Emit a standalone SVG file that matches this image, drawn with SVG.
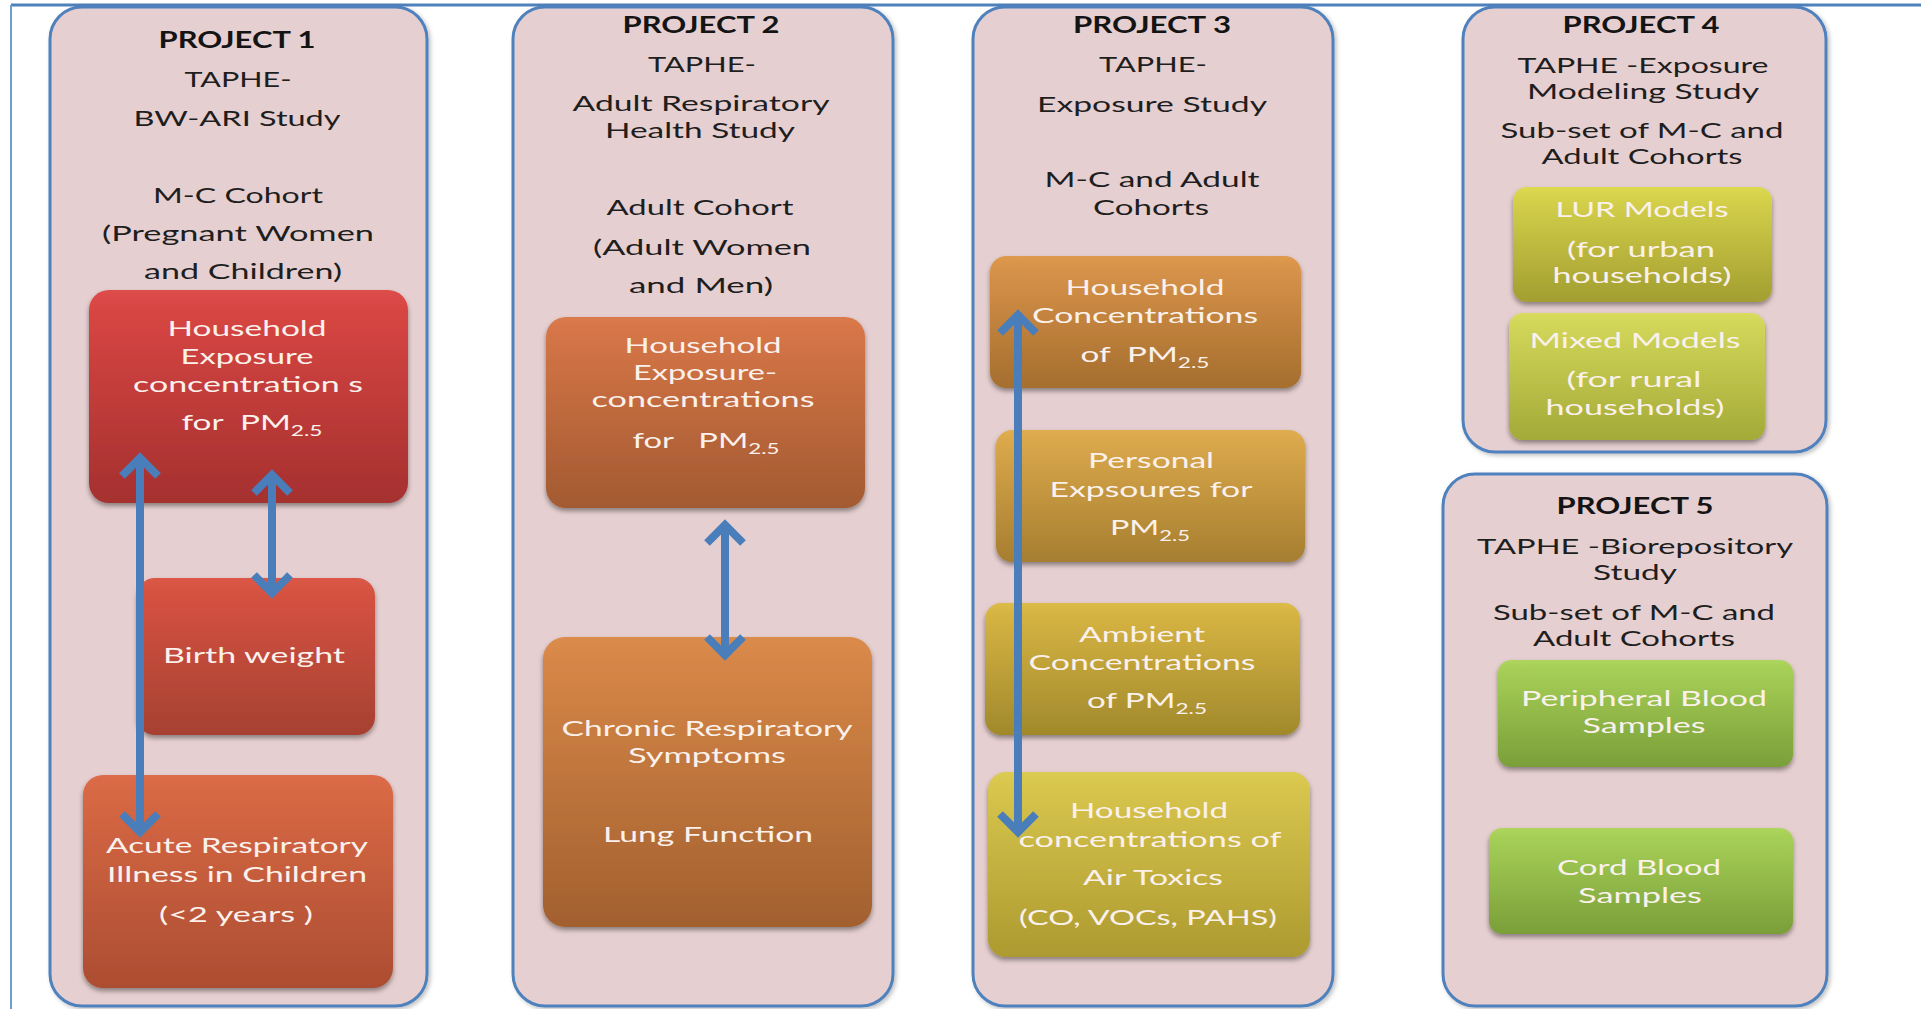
<svg xmlns="http://www.w3.org/2000/svg" width="1921" height="1009" viewBox="0 0 1921 1009">
<style>
.panel{fill:#E6CFD0;stroke:#4F81BD;stroke-width:3;filter:url(#pshadow)}
.box{filter:url(#bshadow)}
.h{font-family:Lato,"Open Sans","Liberation Sans",sans-serif;font-size:22px;fill:#1E1E1E;text-anchor:middle}
.t{font-family:Lato,"Open Sans","Liberation Sans",sans-serif;font-size:22px;font-weight:700;fill:#141414;text-anchor:middle}
.w{font-family:Lato,"Open Sans","Liberation Sans",sans-serif;font-size:22px;fill:#FBF1EC;text-anchor:middle}
.sub{font-size:15px}
.arrow{stroke:#4A7EBB;stroke-width:8;fill:none;marker-start:url(#chev);marker-end:url(#chev)}
</style>
<defs>
<filter id="pshadow" x="-5%" y="-5%" width="110%" height="110%">
<feDropShadow dx="2" dy="2" stdDeviation="2" flood-color="#000" flood-opacity="0.25"/>
</filter>
<filter id="bshadow" x="-5%" y="-5%" width="110%" height="115%">
<feDropShadow dx="0" dy="3" stdDeviation="2.5" flood-color="#000" flood-opacity="0.4"/>
</filter>
<marker id="chev" markerUnits="userSpaceOnUse" viewBox="-30 -25 40 50" refX="0" refY="0" markerWidth="40" markerHeight="50" orient="auto-start-reverse" overflow="visible">
<path d="M -18,-18 L 0,0 L -18,18" fill="none" stroke="#4A7EBB" stroke-width="8" stroke-linejoin="miter"/>
</marker>
<linearGradient id="g1" x1="0" y1="0" x2="0" y2="1"><stop offset="0" stop-color="#DD4E4A"/><stop offset="0.08" stop-color="#D84643"/><stop offset="1" stop-color="#A5302F"/></linearGradient>
<linearGradient id="g2" x1="0" y1="0" x2="0" y2="1"><stop offset="0" stop-color="#DC5846"/><stop offset="0.08" stop-color="#D65242"/><stop offset="1" stop-color="#A64131"/></linearGradient>
<linearGradient id="g3" x1="0" y1="0" x2="0" y2="1"><stop offset="0" stop-color="#DC6C48"/><stop offset="0.08" stop-color="#D76844"/><stop offset="1" stop-color="#AC4D32"/></linearGradient>
<linearGradient id="g4" x1="0" y1="0" x2="0" y2="1"><stop offset="0" stop-color="#DB7A4C"/><stop offset="0.08" stop-color="#D57547"/><stop offset="1" stop-color="#A35A31"/></linearGradient>
<linearGradient id="g5" x1="0" y1="0" x2="0" y2="1"><stop offset="0" stop-color="#DB8C4C"/><stop offset="0.08" stop-color="#D68647"/><stop offset="1" stop-color="#A2602F"/></linearGradient>
<linearGradient id="g6" x1="0" y1="0" x2="0" y2="1"><stop offset="0" stop-color="#DE9A4E"/><stop offset="0.08" stop-color="#D8934A"/><stop offset="1" stop-color="#A56E2E"/></linearGradient>
<linearGradient id="g7" x1="0" y1="0" x2="0" y2="1"><stop offset="0" stop-color="#E0AE50"/><stop offset="0.08" stop-color="#DAA84B"/><stop offset="1" stop-color="#A67E30"/></linearGradient>
<linearGradient id="g8" x1="0" y1="0" x2="0" y2="1"><stop offset="0" stop-color="#DCBB48"/><stop offset="0.08" stop-color="#D6B443"/><stop offset="1" stop-color="#A1892B"/></linearGradient>
<linearGradient id="g9" x1="0" y1="0" x2="0" y2="1"><stop offset="0" stop-color="#DCCB52"/><stop offset="0.08" stop-color="#D7C54D"/><stop offset="1" stop-color="#AD9A30"/></linearGradient>
<linearGradient id="g10" x1="0" y1="0" x2="0" y2="1"><stop offset="0" stop-color="#DDD950"/><stop offset="0.08" stop-color="#D6D24B"/><stop offset="1" stop-color="#A29E31"/></linearGradient>
<linearGradient id="g11" x1="0" y1="0" x2="0" y2="1"><stop offset="0" stop-color="#D9DC5E"/><stop offset="0.08" stop-color="#D2D659"/><stop offset="1" stop-color="#A3AA38"/></linearGradient>
<linearGradient id="g12" x1="0" y1="0" x2="0" y2="1"><stop offset="0" stop-color="#AED65E"/><stop offset="0.08" stop-color="#A6CF57"/><stop offset="1" stop-color="#7A9F39"/></linearGradient>
</defs>

<rect x="0" y="0" width="1921" height="1009" fill="#FFFFFF"/>
<g id="frame">
<line x1="11" y1="5" x2="1921" y2="5" stroke="#4F81BD" stroke-width="3"/>
<line x1="11" y1="5" x2="11" y2="1009" stroke="#6F9AD2" stroke-width="2"/>
</g>

<g id="project1">
<rect class="panel" x="50" y="7" width="377" height="999" rx="32"/>
<text class="t" x="237" y="48" textLength="157" lengthAdjust="spacingAndGlyphs">PROJECT 1</text>
<text class="h" x="238" y="87" textLength="107" lengthAdjust="spacingAndGlyphs">TAPHE-</text>
<text class="h" x="237" y="126" textLength="207" lengthAdjust="spacingAndGlyphs">BW-ARI Study</text>
<text class="h" x="238" y="203" textLength="170" lengthAdjust="spacingAndGlyphs">M-C Cohort</text>
<text class="h" x="238" y="241" textLength="272" lengthAdjust="spacingAndGlyphs">(Pregnant Women</text>
<text class="h" x="243" y="279" textLength="198" lengthAdjust="spacingAndGlyphs">and Children)</text>
</g>
<g id="p1-household">
<rect class="box" x="89" y="290" width="319" height="213" rx="20" fill="url(#g1)"/>
<text class="w" x="247" y="336" textLength="159" lengthAdjust="spacingAndGlyphs">Household</text>
<text class="w" x="247" y="364" textLength="133" lengthAdjust="spacingAndGlyphs">Exposure</text>
<text class="w" x="248" y="392" textLength="230" lengthAdjust="spacingAndGlyphs">concentration s</text>
<text class="w" x="252" y="430" textLength="141" lengthAdjust="spacingAndGlyphs" xml:space="preserve">for  PM<tspan class="sub" dy="6">2.5</tspan></text>
</g>
<g id="p1-birthweight">
<rect class="box" x="137" y="578" width="238" height="157" rx="18" fill="url(#g2)"/>
<text class="w" x="254" y="663" textLength="182" lengthAdjust="spacingAndGlyphs">Birth weight</text>
</g>
<g id="p1-acute">
<rect class="box" x="83" y="775" width="310" height="213" rx="20" fill="url(#g3)"/>
<text class="w" x="237" y="853" textLength="262" lengthAdjust="spacingAndGlyphs">Acute Respiratory</text>
<text class="w" x="237" y="882" textLength="260" lengthAdjust="spacingAndGlyphs">Illness in Children</text>
<text class="w" x="236" y="922" textLength="154" lengthAdjust="spacingAndGlyphs">(&lt;2 years )</text>
</g>

<g id="project2">
<rect class="panel" x="513" y="7" width="380" height="999" rx="32"/>
<text class="t" x="701" y="33" textLength="157" lengthAdjust="spacingAndGlyphs">PROJECT 2</text>
<text class="h" x="702" y="72" textLength="108" lengthAdjust="spacingAndGlyphs">TAPHE-</text>
<text class="h" x="701" y="111" textLength="257" lengthAdjust="spacingAndGlyphs">Adult Respiratory</text>
<text class="h" x="700" y="138" textLength="190" lengthAdjust="spacingAndGlyphs">Health Study</text>
<text class="h" x="700" y="215" textLength="187" lengthAdjust="spacingAndGlyphs">Adult Cohort</text>
<text class="h" x="702" y="255" textLength="218" lengthAdjust="spacingAndGlyphs">(Adult Women</text>
<text class="h" x="701" y="293" textLength="144" lengthAdjust="spacingAndGlyphs">and Men)</text>
</g>
<g id="p2-household">
<rect class="box" x="546" y="317" width="319" height="191" rx="20" fill="url(#g4)"/>
<text class="w" x="703" y="353" textLength="157" lengthAdjust="spacingAndGlyphs">Household</text>
<text class="w" x="705" y="380" textLength="144" lengthAdjust="spacingAndGlyphs">Exposure-</text>
<text class="w" x="703" y="407" textLength="223" lengthAdjust="spacingAndGlyphs">concentrations</text>
<text class="w" x="706" y="448" textLength="147" lengthAdjust="spacingAndGlyphs" xml:space="preserve">for   PM<tspan class="sub" dy="6">2.5</tspan></text>
</g>
<g id="p2-chronic">
<rect class="box" x="543" y="637" width="329" height="290" rx="22" fill="url(#g5)"/>
<text class="w" x="707" y="736" textLength="291" lengthAdjust="spacingAndGlyphs">Chronic Respiratory</text>
<text class="w" x="707" y="763" textLength="158" lengthAdjust="spacingAndGlyphs">Symptoms</text>
<text class="w" x="708" y="842" textLength="210" lengthAdjust="spacingAndGlyphs">Lung Function</text>
</g>

<g id="project3">
<rect class="panel" x="973" y="7" width="360" height="999" rx="32"/>
<text class="t" x="1152" y="33" textLength="158" lengthAdjust="spacingAndGlyphs">PROJECT 3</text>
<text class="h" x="1153" y="72" textLength="108" lengthAdjust="spacingAndGlyphs">TAPHE-</text>
<text class="h" x="1152" y="112" textLength="230" lengthAdjust="spacingAndGlyphs">Exposure Study</text>
<text class="h" x="1152" y="187" textLength="215" lengthAdjust="spacingAndGlyphs">M-C and Adult</text>
<text class="h" x="1151" y="215" textLength="116" lengthAdjust="spacingAndGlyphs">Cohorts</text>
</g>
<g id="p3-household-pm">
<rect class="box" x="990" y="256" width="311" height="132" rx="16" fill="url(#g6)"/>
<text class="w" x="1145" y="295" textLength="159" lengthAdjust="spacingAndGlyphs">Household</text>
<text class="w" x="1145" y="323" textLength="226" lengthAdjust="spacingAndGlyphs">Concentrations</text>
<text class="w" x="1145" y="362" textLength="129" lengthAdjust="spacingAndGlyphs" xml:space="preserve">of  PM<tspan class="sub" dy="6">2.5</tspan></text>
</g>
<g id="p3-personal">
<rect class="box" x="996" y="430" width="309" height="132" rx="16" fill="url(#g7)"/>
<text class="w" x="1151" y="468" textLength="126" lengthAdjust="spacingAndGlyphs">Personal</text>
<text class="w" x="1151" y="497" textLength="203" lengthAdjust="spacingAndGlyphs">Expsoures for</text>
<text class="w" x="1150" y="535" textLength="80" lengthAdjust="spacingAndGlyphs">PM<tspan class="sub" dy="6">2.5</tspan></text>
</g>
<g id="p3-ambient">
<rect class="box" x="985" y="603" width="315" height="132" rx="16" fill="url(#g8)"/>
<text class="w" x="1142" y="642" textLength="126" lengthAdjust="spacingAndGlyphs">Ambient</text>
<text class="w" x="1142" y="670" textLength="227" lengthAdjust="spacingAndGlyphs">Concentrations</text>
<text class="w" x="1147" y="708" textLength="120" lengthAdjust="spacingAndGlyphs">of PM<tspan class="sub" dy="6">2.5</tspan></text>
</g>
<g id="p3-airtoxics">
<rect class="box" x="988" y="772" width="322" height="185" rx="18" fill="url(#g9)"/>
<text class="w" x="1149" y="818" textLength="158" lengthAdjust="spacingAndGlyphs">Household</text>
<text class="w" x="1150" y="847" textLength="263" lengthAdjust="spacingAndGlyphs">concentrations of</text>
<text class="w" x="1153" y="885" textLength="140" lengthAdjust="spacingAndGlyphs">Air Toxics</text>
<text class="w" x="1148" y="925" textLength="258" lengthAdjust="spacingAndGlyphs">(CO, VOCs, PAHS)</text>
</g>

<g id="project4">
<rect class="panel" x="1463" y="7" width="363" height="445" rx="32"/>
<text class="t" x="1641" y="33" textLength="157" lengthAdjust="spacingAndGlyphs">PROJECT 4</text>
<text class="h" x="1643" y="73" textLength="251" lengthAdjust="spacingAndGlyphs">TAPHE -Exposure</text>
<text class="h" x="1643" y="99" textLength="232" lengthAdjust="spacingAndGlyphs">Modeling Study</text>
<text class="h" x="1642" y="138" textLength="283" lengthAdjust="spacingAndGlyphs">Sub-set of M-C and</text>
<text class="h" x="1642" y="164" textLength="201" lengthAdjust="spacingAndGlyphs">Adult Cohorts</text>
</g>
<g id="p4-lur">
<rect class="box" x="1513" y="187" width="259" height="115" rx="14" fill="url(#g10)"/>
<text class="w" x="1642" y="217" textLength="173" lengthAdjust="spacingAndGlyphs">LUR Models</text>
<text class="w" x="1641" y="257" textLength="148" lengthAdjust="spacingAndGlyphs">(for urban</text>
<text class="w" x="1642" y="283" textLength="179" lengthAdjust="spacingAndGlyphs">households)</text>
</g>
<g id="p4-mixed">
<rect class="box" x="1509" y="313" width="256" height="127" rx="14" fill="url(#g11)"/>
<text class="w" x="1635" y="348" textLength="211" lengthAdjust="spacingAndGlyphs">Mixed Models</text>
<text class="w" x="1634" y="387" textLength="135" lengthAdjust="spacingAndGlyphs">(for rural</text>
<text class="w" x="1635" y="415" textLength="179" lengthAdjust="spacingAndGlyphs">households)</text>
</g>

<g id="project5">
<rect class="panel" x="1443" y="474" width="384" height="532" rx="32"/>
<text class="t" x="1635" y="514" textLength="157" lengthAdjust="spacingAndGlyphs">PROJECT 5</text>
<text class="h" x="1635" y="554" textLength="316" lengthAdjust="spacingAndGlyphs">TAPHE -Biorepository</text>
<text class="h" x="1635" y="580" textLength="84" lengthAdjust="spacingAndGlyphs">Study</text>
<text class="h" x="1634" y="620" textLength="282" lengthAdjust="spacingAndGlyphs">Sub-set of M-C and</text>
<text class="h" x="1634" y="646" textLength="202" lengthAdjust="spacingAndGlyphs">Adult Cohorts</text>
</g>
<g id="p5-peripheral">
<rect class="box" x="1498" y="660" width="295" height="107" rx="13" fill="url(#g12)"/>
<text class="w" x="1644" y="706" textLength="246" lengthAdjust="spacingAndGlyphs">Peripheral Blood</text>
<text class="w" x="1644" y="733" textLength="123" lengthAdjust="spacingAndGlyphs">Samples</text>
</g>
<g id="p5-cord">
<rect class="box" x="1489" y="828" width="304" height="106" rx="13" fill="url(#g12)"/>
<text class="w" x="1639" y="875" textLength="164" lengthAdjust="spacingAndGlyphs">Cord Blood</text>
<text class="w" x="1640" y="903" textLength="124" lengthAdjust="spacingAndGlyphs">Samples</text>
</g>

<g id="connectors">
<line class="arrow" x1="140" y1="458" x2="140" y2="832"/>
<line class="arrow" x1="272" y1="475" x2="272" y2="593"/>
<line class="arrow" x1="725" y1="525" x2="725" y2="655"/>
<line class="arrow" x1="1018" y1="315" x2="1018" y2="832"/>
</g>
</svg>
